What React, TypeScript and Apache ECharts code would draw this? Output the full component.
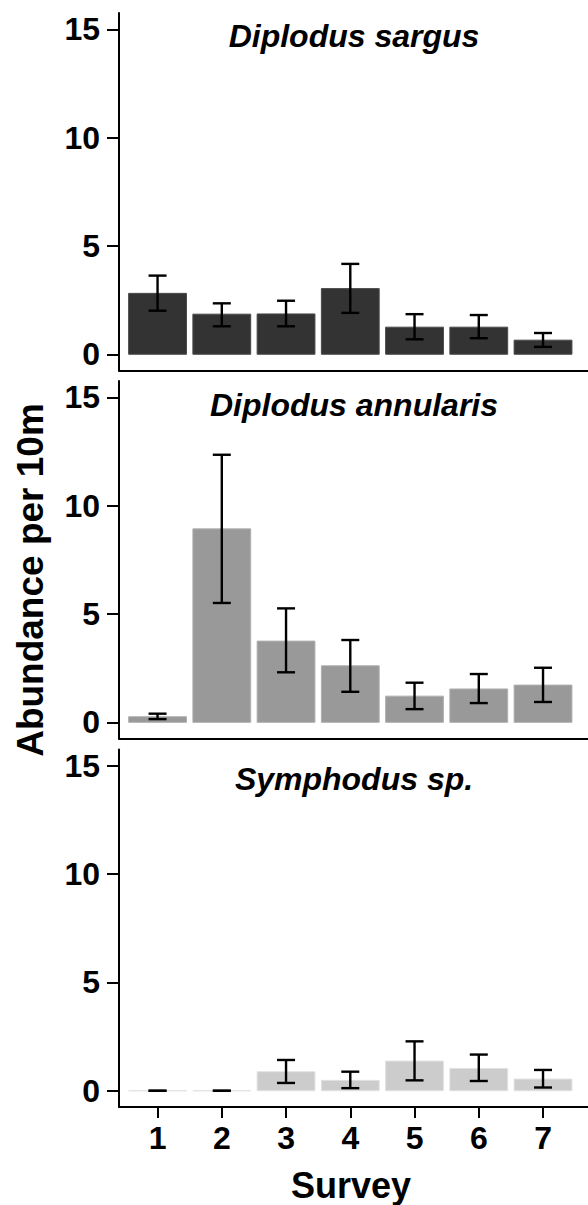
import React, { useEffect, useRef } from "react";
import * as echarts from "echarts";

const surveys = ["1", "2", "3", "4", "5", "6", "7"];
const yTicks = [0, 5, 10, 15];

const speciesNames = ["Diplodus sargus", "Diplodus annularis", "Symphodus sp."];

const sargusMean = [2.81, 1.85, 1.86, 3.03, 1.25, 1.25, 0.65];
const sargusLow = [2.01, 1.29, 1.29, 1.91, 0.69, 0.74, 0.34];
const sargusHigh = [3.63, 2.35, 2.47, 4.17, 1.85, 1.81, 0.98];

const annularisMean = [0.26, 8.93, 3.75, 2.61, 1.21, 1.54, 1.72];
const annularisLow = [0.15, 5.51, 2.31, 1.41, 0.61, 0.89, 0.94];
const annularisHigh = [0.4, 12.35, 5.26, 3.8, 1.83, 2.23, 2.52];

const symphodusMean = [0, 0, 0.88, 0.48, 1.37, 1.03, 0.54];
const symphodusLow = [0, 0, 0.36, 0.12, 0.48, 0.45, 0.15];
const symphodusHigh = [0, 0, 1.42, 0.88, 2.28, 1.67, 0.96];

const panels = [
  { mean: sargusMean, low: sargusLow, high: sargusHigh, fill: "#333333", edge: "#4a4a4a" },
  { mean: annularisMean, low: annularisLow, high: annularisHigh, fill: "#999999", edge: "#b0b0b0" },
  { mean: symphodusMean, low: symphodusLow, high: symphodusHigh, fill: "#cccccc", edge: "#e2e2e2" },
];

const FONT = "'Liberation Sans', Arial, Helvetica, sans-serif";
const INK = "#000000";

const W = 588;
const H = 1205;
const GRID_LEFT = 119;
const PANEL_TOPS = [13, 381.1, 749.5];
const PANEL_H = 357.5;

export default function App() {
  const ref = useRef<HTMLDivElement>(null);

  useEffect(() => {
    document.body.style.margin = "0";
    if (!ref.current) return;
    const chart = echarts.init(ref.current, null, { renderer: "svg" });

    const grids = PANEL_TOPS.map((t) => ({
      left: GRID_LEFT,
      width: W - GRID_LEFT,
      top: t,
      height: PANEL_H,
      containLabel: false,
    }));

    const xAxes = PANEL_TOPS.map((_, i) => ({
      type: "value",
      gridIndex: i,
      min: 0.4,
      max: 7.7,
      splitLine: { show: false },
      axisLine: { show: true, onZero: false, lineStyle: { color: INK, width: 2 } },
      axisTick: {
        show: i === 2,
        customValues: surveys.map((_, k) => k + 1),
        length: 11,
        lineStyle: { color: INK, width: 2 },
      },
      axisLabel: {
        show: i === 2,
        customValues: surveys.map((_, k) => k + 1),
        formatter: (v: number) => surveys[Math.round(v) - 1] ?? "",
        margin: 15,
        fontFamily: FONT,
        fontWeight: "bold",
        fontSize: 32,
        color: INK,
      },
    }));

    const yAxes = PANEL_TOPS.map((_, i) => ({
      type: "value",
      gridIndex: i,
      min: -0.75,
      max: 15.75,
      splitLine: { show: false },
      axisLine: { show: true, onZero: false, lineStyle: { color: INK, width: 2 } },
      axisTick: { show: true, customValues: yTicks, length: 12, lineStyle: { color: INK, width: 2 } },
      axisLabel: {
        customValues: yTicks,
        margin: 19,
        fontFamily: FONT,
        fontWeight: "bold",
        fontSize: 32,
        color: INK,
      },
    }));

    const series = panels.map((p, i) => ({
      type: "custom",
      xAxisIndex: i,
      yAxisIndex: i,
      data: surveys.map((_, k) => [k + 1, p.mean[k], p.low[k], p.high[k]]),
      encode: { x: 0, y: [1, 2, 3] },
      renderItem: (_params: any, api: any) => {
        const x = api.value(0);
        const m = api.value(1);
        const lo = api.value(2);
        const hi = api.value(3);
        const a = api.coord([x - 0.45, m]);
        const b = api.coord([x + 0.45, 0]);
        const c = api.coord([x, lo]);
        const d = api.coord([x, hi]);
        const cap = 9;
        return {
          type: "group",
          children: [
            {
              type: "rect",
              shape: { x: a[0], y: a[1], width: b[0] - a[0], height: b[1] - a[1] },
              style: { fill: p.fill, stroke: p.edge, lineWidth: 1 },
            },
            {
              type: "line",
              shape: { x1: c[0], y1: c[1], x2: d[0], y2: d[1] },
              style: { stroke: "#000", lineWidth: 2.4 },
            },
            {
              type: "line",
              shape: { x1: c[0] - cap, y1: c[1], x2: c[0] + cap, y2: c[1] },
              style: { stroke: "#000", lineWidth: 2.4 },
            },
            {
              type: "line",
              shape: { x1: d[0] - cap, y1: d[1], x2: d[0] + cap, y2: d[1] },
              style: { stroke: "#000", lineWidth: 2.4 },
            },
          ],
        };
      },
    }));

    const titleY = [36.3, 404.9, 779];
    const graphics: any[] = speciesNames.map((name, i) => ({
      type: "text",
      x: 354,
      y: titleY[i],
      style: {
        text: name,
        align: "center",
        verticalAlign: "middle",
        fontFamily: FONT,
        fontWeight: "bold",
        fontStyle: "italic",
        fontSize: 32,
        fill: INK,
      },
    }));
    graphics.push({
      type: "text",
      x: 351,
      y: 1185.5,
      style: {
        text: "Survey",
        align: "center",
        verticalAlign: "middle",
        fontFamily: FONT,
        fontWeight: "bold",
        fontSize: 36,
        fill: INK,
      },
    });
    graphics.push({
      type: "text",
      x: 30,
      y: 580,
      rotation: Math.PI / 2,
      style: {
        text: "Abundance per 10m",
        align: "center",
        verticalAlign: "middle",
        fontFamily: FONT,
        fontWeight: "bold",
        fontSize: 37,
        fill: INK,
      },
    });

    chart.setOption({
      animation: false,
      backgroundColor: "#ffffff",
      grid: grids,
      xAxis: xAxes,
      yAxis: yAxes,
      series,
      graphic: graphics,
    });

    return () => chart.dispose();
  }, []);

  return <div ref={ref} style={{ width: W, height: H }} />;
}
